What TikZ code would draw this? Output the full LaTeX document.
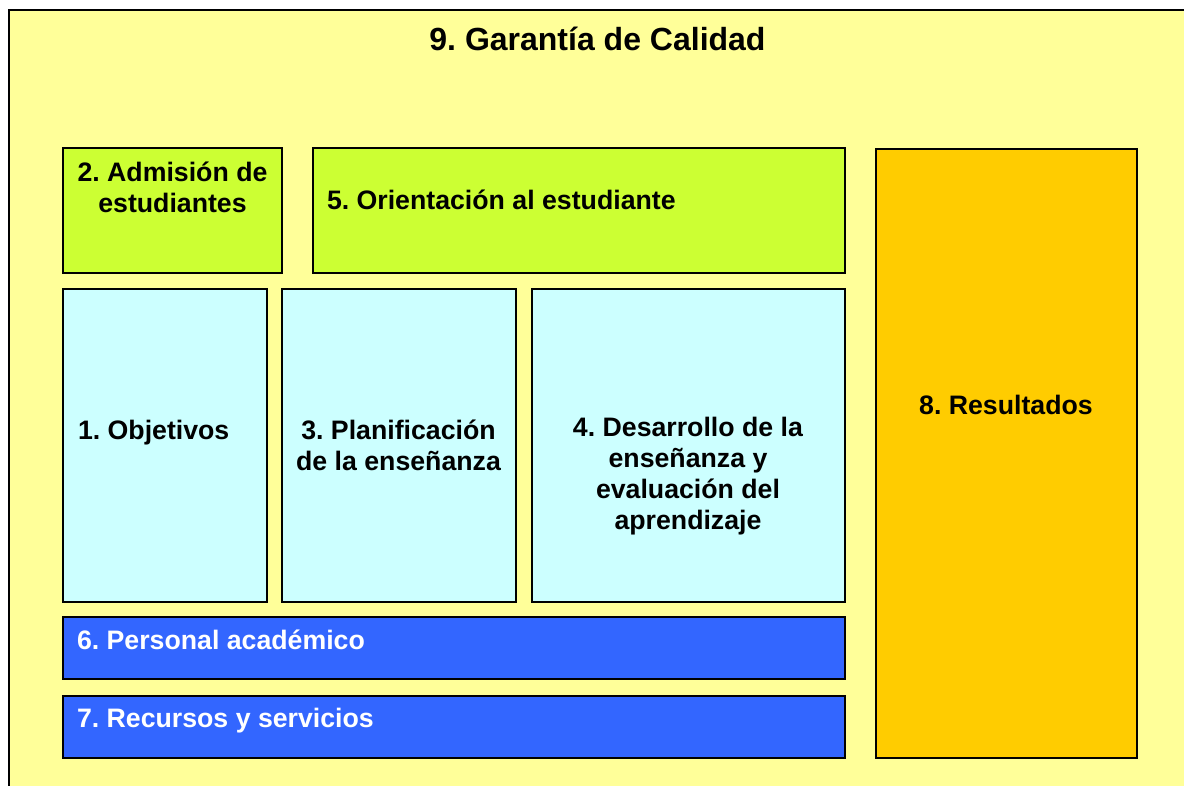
\documentclass[tikz,border=0pt]{standalone}
\usepackage{fontspec}
\setmainfont{Liberation Sans}
\frenchspacing
\definecolor{bgyellow}{HTML}{FFFF99}
\definecolor{lime}{HTML}{CCFF33}
\definecolor{palecyan}{HTML}{CCFFFF}
\definecolor{royal}{HTML}{3366FF}
\definecolor{amber}{HTML}{FFCC00}
\tikzset{
  panel/.style={draw=black, line width=1.5pt, inner sep=0pt, outer sep=0pt, anchor=north west},
  lbl/.style={inner sep=0pt, outer sep=0pt, font=\fontsize{26.7}{31}\selectfont\bfseries, align=center},
  lbll/.style={lbl, align=left, anchor=base west},
  ttl/.style={inner sep=0pt, font=\fontsize{32}{36}\selectfont\bfseries, anchor=base}
}
\begin{document}
\begin{tikzpicture}[x=1pt,y=-1pt]
\useasboundingbox (0,0) rectangle (1184,785);
\fill[white] (0,0) rectangle (1184,785);
\begin{scope}
\clip (0,0) rectangle (1184,785);
\node[panel, fill=bgyellow, minimum width=1200pt, minimum height=800pt] (outer) at (9,10) {};
\end{scope}
\node[ttl] (title) at (597.5,50) {9. Garantía de Calidad};
% boxes
\node[panel, fill=lime, minimum width=219pt, minimum height=125pt] (b2) at (63,148) {};
\node[panel, fill=lime, minimum width=532pt, minimum height=125pt] (b5) at (313,148) {};
\node[panel, fill=palecyan, minimum width=204pt, minimum height=313pt] (b1) at (63,289) {};
\node[panel, fill=palecyan, minimum width=234pt, minimum height=313pt] (b3) at (282,289) {};
\node[panel, fill=palecyan, minimum width=313pt, minimum height=313pt] (b4) at (532,289) {};
\node[panel, fill=royal, minimum width=782pt, minimum height=62pt] (b6) at (63,617) {};
\node[panel, fill=royal, minimum width=782pt, minimum height=62pt] (b7) at (63,696) {};
\node[panel, fill=amber, minimum width=261pt, minimum height=609pt] (b8) at (876,149) {};
% labels
\node[lbl, anchor=base] (t2) at (172.5,212) {2. Admisión de\\estudiantes};
\node[lbll] (t5) at (327,209) {5. Orientación al estudiante};
\node[lbll] (t1) at (78,439) {1. Objetivos};
\node[lbl, anchor=base] (t3) at (398.5,470) {3. Planificación\\de la enseñanza};
\node[lbl, anchor=base] (t4) at (688,529) {4. Desarrollo de la\\enseñanza y\\evaluación del\\aprendizaje};
\node[lbl, anchor=base] (t8) at (1006,414) {8. Resultados};
\node[lbll, text=white] (t6) at (77,649) {6. Personal académico};
\node[lbll, text=white] (t7) at (77,727) {7. Recursos y servicios};
\end{tikzpicture}
\end{document}
